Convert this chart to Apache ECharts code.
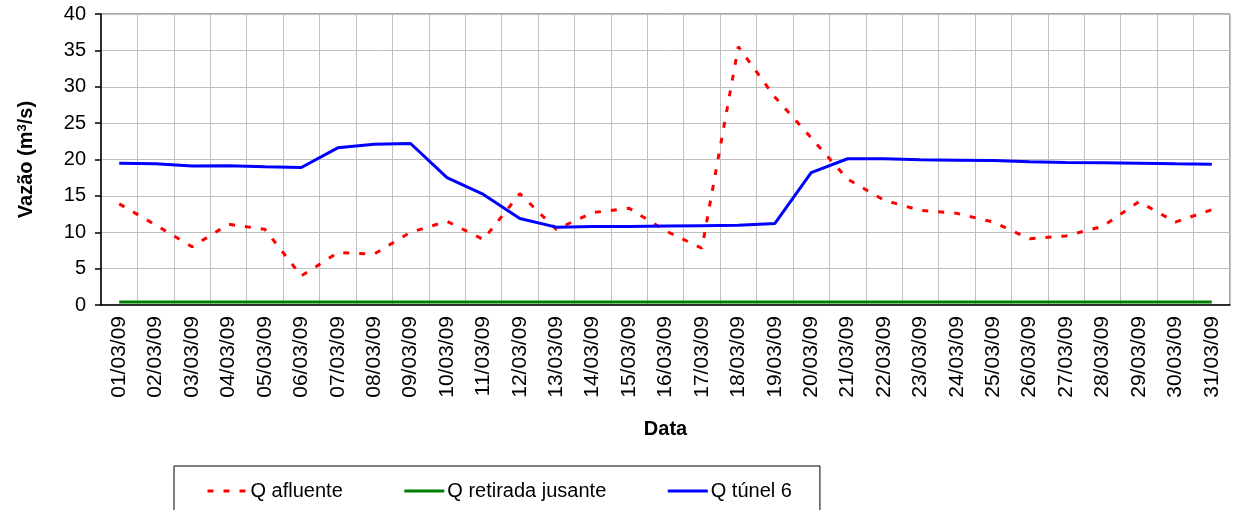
<!DOCTYPE html>
<html>
<head>
<meta charset="utf-8">
<script src="https://cdn.jsdelivr.net/npm/echarts@6/dist/echarts.min.js"></script>
<style>
  html, body { margin: 0; padding: 0; background: #fff; }
  #chart { width: 1236px; height: 510px; }
</style>
</head>
<body>
<div id="chart"></div>
<script>
let dias = ['01/03/09', '02/03/09', '03/03/09', '04/03/09', '05/03/09', '06/03/09', '07/03/09', '08/03/09',
    '09/03/09', '10/03/09', '11/03/09', '12/03/09', '13/03/09', '14/03/09', '15/03/09', '16/03/09',
    '17/03/09', '18/03/09', '19/03/09', '20/03/09', '21/03/09', '22/03/09', '23/03/09', '24/03/09',
    '25/03/09', '26/03/09', '27/03/09', '28/03/09', '29/03/09', '30/03/09', '31/03/09'];

let qAfluente = [13.9, 11.0, 8.0, 11.1, 10.4, 4.0, 7.2, 7.0, 10.0, 11.5, 9.0, 15.3, 10.4, 12.7, 13.3, 10.2,
    7.8, 35.5, 28.6, 23.0, 17.3, 14.4, 13.0, 12.6, 11.4, 9.1, 9.5, 10.8, 14.2, 11.4, 13.1];

let qRetirada = [0.4, 0.4, 0.4, 0.4, 0.4, 0.4, 0.4, 0.4, 0.4, 0.4, 0.4, 0.4, 0.4, 0.4, 0.4, 0.4,
    0.4, 0.4, 0.4, 0.4, 0.4, 0.4, 0.4, 0.4, 0.4, 0.4, 0.4, 0.4, 0.4, 0.4, 0.4];

let qTunel = [19.5, 19.4, 19.1, 19.15, 19.0, 18.9, 21.6, 22.1, 22.2, 17.5, 15.2, 11.9, 10.7, 10.8, 10.8, 10.85,
    10.9, 10.95, 11.2, 18.2, 20.1, 20.1, 19.95, 19.9, 19.85, 19.7, 19.6, 19.55, 19.5, 19.4, 19.35];

let fonte = "'Liberation Sans', Arial, sans-serif";

let myChart = echarts.init(document.getElementById('chart'));

let option = {
    animation: false,
    textStyle: { fontFamily: fonte, color: '#000' },
    grid: {
        left: 101,
        right: 6,
        top: 14,
        bottom: 205,
        show: true,
        borderColor: '#555',
        borderWidth: 1
    },
    legend: {
        left: 174,
        top: 466,
        padding: [15, 28, 20, 32],
        borderColor: '#000',
        borderWidth: 1,
        itemWidth: 40,
        itemHeight: 14,
        itemGap: 60,
        itemStyle: { opacity: 0 },
        lineStyle: { width: 3 },
        textStyle: { fontFamily: fonte, fontSize: 20, color: '#000', padding: [0, 0, 0, -2] },
        data: ['Q afluente', 'Q retirada jusante', 'Q túnel 6']
    },
    xAxis: {
        type: 'category',
        data: dias,
        boundaryGap: true,
        name: 'Data',
        nameLocation: 'middle',
        nameGap: 114,
        nameTextStyle: { fontFamily: fonte, fontSize: 20, fontWeight: 'bold', color: '#000' },
        axisLine: { lineStyle: { color: '#000', width: 1.5 } },
        axisTick: { length: 6, lineStyle: { color: '#000', width: 1.5 } },
        axisLabel: { rotate: 90, margin: 11, fontSize: 21, color: '#000', fontFamily: fonte, interval: 0 },
        splitLine: { show: true, interval: 0, lineStyle: { color: '#c0c0c0', width: 1 } }
    },
    yAxis: {
        type: 'value',
        min: 0,
        max: 40,
        interval: 5,
        name: 'Vazão (m{sup|3}/s)',
        nameLocation: 'middle',
        nameGap: 64,
        nameTextStyle: {
            fontFamily: fonte, fontSize: 20, fontWeight: 'bold', color: '#000',
            rich: {
                sup: { fontSize: 13, fontWeight: 'bold', verticalAlign: 'top', padding: [0, 0, 8, 0] }
            }
        },
        axisLine: { show: true, lineStyle: { color: '#000', width: 1.5 } },
        axisTick: { show: true, length: 6, lineStyle: { color: '#000', width: 1.5 } },
        axisLabel: { margin: 15, fontSize: 20, color: '#000', fontFamily: fonte },
        splitLine: { lineStyle: { color: '#c0c0c0', width: 1 } }
    },
    series: [{
        name: 'Q afluente',
        type: 'line',
        symbol: 'none',
        data: qAfluente,
        lineStyle: { color: '#ff0000', width: 3, type: [6, 10] },
        itemStyle: { color: '#ff0000' }
    }, {
        name: 'Q retirada jusante',
        type: 'line',
        symbol: 'none',
        data: qRetirada,
        lineStyle: { color: '#008000', width: 3 },
        itemStyle: { color: '#008000' }
    }, {
        name: 'Q túnel 6',
        type: 'line',
        symbol: 'none',
        data: qTunel,
        lineStyle: { color: '#0000ff', width: 3 },
        itemStyle: { color: '#0000ff' }
    }]
};

myChart.setOption(option);
</script>
</body>
</html>
